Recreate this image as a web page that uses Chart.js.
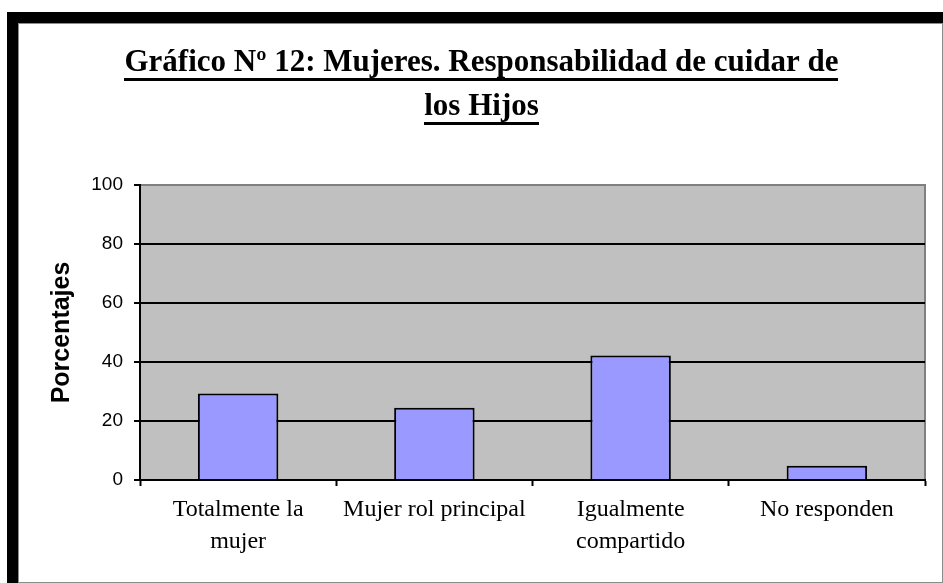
<!DOCTYPE html>
<html>
<head>
<meta charset="utf-8">
<script src="https://cdn.jsdelivr.net/npm/chart.js@4/dist/chart.umd.min.js"></script>
<style>
    html, body { margin: 0; padding: 0; background: #fff; overflow: hidden; }
    #shadow { position: absolute; left: 7px; top: 12px; width: 936px; height: 571px; background: #000; }
    #frame { position: absolute; left: 18px; top: 23px; width: 925px; height: 560px; background: #fff; border: 1px solid #8c8c8c; box-sizing: border-box; }
    #wrap { position: absolute; left: 0; top: 0; width: 943px; height: 583px; }
</style>
</head>
<body>
<div id="shadow"></div>
<div id="frame"></div>
<div id="wrap"><canvas id="myChart"></canvas></div>
<script>
// DATA
const titleLines = ['Gráfico Nº 12: Mujeres. Responsabilidad de cuidar de', 'los Hijos'];
const categories = [['Totalmente la', 'mujer'], 'Mujer rol principal', ['Igualmente', 'compartido'], 'No responden'];
const percentages = [29.3, 24.5, 42.2, 4.8];
const yMin = 0;
const yMax = 100;
const yStep = 20;
const yTitle = 'Porcentajes';

const TITLE_SIZE = 31;
const TITLE_LH = 44;

// grey plot area with its border
const plotBg = {
    id: 'plotBg',
    beforeDraw(chart) {
        const { ctx, chartArea: a } = chart;
        ctx.save();
        ctx.fillStyle = '#c0c0c0';
        ctx.fillRect(a.left, a.top, a.right - a.left, a.bottom - a.top);
        ctx.strokeStyle = '#808080';
        ctx.lineWidth = 2;
        ctx.strokeRect(a.left, a.top, a.right - a.left, a.bottom - a.top);
        ctx.restore();
    }
};

// underline the title lines (Chart.js title has no underline option)
const titleUnderline = {
    id: 'titleUnderline',
    afterDraw(chart) {
        const tb = chart.titleBlock;
        if (!tb) return;
        const opts = chart.options.plugins.title;
        const ctx = chart.ctx;
        ctx.save();
        ctx.font = 'bold ' + TITLE_SIZE + 'px "Liberation Serif"';
        ctx.textBaseline = 'alphabetic';
        ctx.fillStyle = '#000';
        const cx = (tb.left + tb.right) / 2;
        titleLines.forEach((line, i) => {
            const m = ctx.measureText(line);
            const off = (m.fontBoundingBoxAscent - m.fontBoundingBoxDescent) / 2;
            const mid = tb.top + opts.padding.top + (i + 0.5) * TITLE_LH;
            const base = mid + off;
            ctx.fillRect(Math.round(cx - m.width / 2), Math.round(base + 5), Math.round(m.width), 3);
        });
        ctx.restore();
    }
};

document.addEventListener('DOMContentLoaded', function() {
    const ctx = document.getElementById('myChart').getContext('2d');

    new Chart(ctx, {
        type: 'bar',
        data: {
            labels: categories,
            datasets: [{
                data: percentages,
                backgroundColor: '#9999ff',
                borderColor: '#000',
                borderWidth: 2,
                barPercentage: 0.41,
                categoryPercentage: 1.0
            }]
        },
        options: {
            responsive: true,
            maintainAspectRatio: false,
            animation: false,
            layout: { padding: { left: 38, right: 18, top: 0, bottom: 0 } },
            scales: {
                x: {
                    grid: { drawOnChartArea: false, drawTicks: true, tickLength: 6, tickColor: '#000', tickWidth: 2, offset: true },
                    border: { color: '#000', width: 2 },
                    ticks: {
                        color: '#000',
                        font: { family: 'Liberation Serif', size: 24, lineHeight: 1.333 },
                        padding: 8,
                        maxRotation: 0,
                        autoSkip: false
                    },
                    afterFit(scale) { scale.height = 103; }
                },
                y: {
                    min: yMin,
                    max: yMax,
                    ticks: {
                        stepSize: yStep,
                        color: '#000',
                        font: { family: 'Liberation Sans', size: 19 },
                        padding: 11
                    },
                    grid: {
                        color: c => (c.tick && c.tick.value === yMax) ? 'rgba(0,0,0,0)' : '#000',
                        lineWidth: 2,
                        tickLength: 6,
                        tickColor: '#000',
                        tickWidth: 2
                    },
                    border: { color: '#000', width: 2 },
                    title: {
                        display: true,
                        text: yTitle,
                        color: '#000',
                        font: { family: 'Liberation Sans', size: 25, weight: 'bold', lineHeight: 1.2 },
                        padding: { top: 9, bottom: 0 }
                    },
                    afterFit(scale) { scale.width = 102; }
                }
            },
            plugins: {
                legend: { display: false },
                tooltip: { enabled: false },
                title: {
                    display: true,
                    text: titleLines,
                    color: '#000',
                    font: { family: 'Liberation Serif', size: TITLE_SIZE, weight: 'bold', lineHeight: TITLE_LH / TITLE_SIZE },
                    padding: { top: 40.5, bottom: 56.5 }
                }
            }
        },
        plugins: [plotBg, titleUnderline]
    });
});
</script>
</body>
</html>
